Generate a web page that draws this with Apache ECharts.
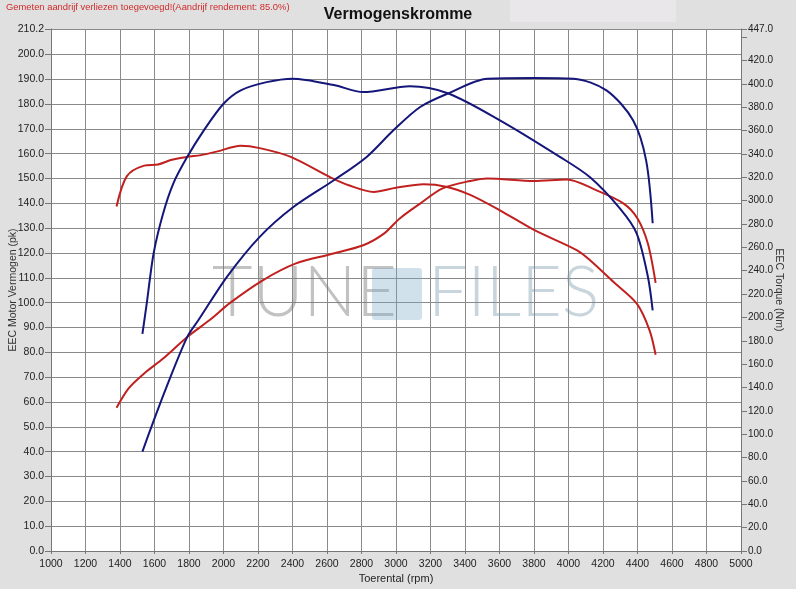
<!DOCTYPE html>
<html>
<head>
<meta charset="utf-8">
<script src="https://cdn.jsdelivr.net/npm/echarts@6/dist/echarts.min.js"></script>
<style>
  html, body { margin: 0; padding: 0; background: #e0e0e0; }
  #chart { width: 796px; height: 589px; }
</style>
</head>
<body>
<div id="chart"></div>
<script>
// toerental (rpm) per curve
const rpmOrigPower = [1380, 1450, 1540, 1650, 1790, 1920, 2040, 2230, 2420, 2620, 2810, 2930, 3020, 3140, 3270, 3430, 3530, 3800, 3990, 4160, 4320, 4400, 4460, 4505];
const origPower = [57.7, 65.5, 71.5, 77.5, 86.2, 93.0, 100.0, 109.1, 115.8, 119.5, 123.1, 127.8, 133.8, 139.9, 146.0, 149.0, 150.0, 149.0, 149.6, 145.3, 139.9, 133.9, 123.8, 108.0];

const rpmOrigTorque = [1380, 1440, 1540, 1620, 1700, 1790, 1870, 1960, 2100, 2210, 2390, 2620, 2730, 2870, 3000, 3160, 3290, 3430, 3600, 3800, 4050, 4125, 4260, 4395, 4470, 4505];
const origTorque = [295, 321, 330, 331, 335, 337.5, 339, 342, 347, 345, 337.5, 320, 313, 307.5, 311, 314, 312, 305, 292, 275, 257.5, 249, 230.5, 212, 189, 168];

const rpmTunedPower = [1530, 1575, 1670, 1790, 1855, 2020, 2210, 2405, 2640, 2830, 2985, 3140, 3300, 3530, 3800, 4030, 4220, 4375, 4450, 4488];
const tunedPower = [40.0, 48.7, 66.1, 86.2, 93.0, 110.4, 126.5, 138.5, 149.3, 158.7, 169.4, 178.8, 184.2, 190.2, 190.5, 190.2, 185.5, 173.4, 157.3, 132.0];

const rpmTunedTorque = [1530, 1555, 1595, 1650, 1710, 1790, 1885, 2000, 2100, 2250, 2400, 2640, 2810, 3080, 3300, 3600, 3950, 4125, 4300, 4395, 4460, 4488];
const tunedTorque = [186, 212, 255, 289, 315, 337.5, 360, 383, 394.5, 401.5, 404.5, 399, 393, 398, 392, 369, 337.5, 320, 293, 272, 235, 206];

const powerMax = 210.2;
const torqueMax = 447.0;

const zip = (xs, ys) => xs.map((x, i) => [x, ys[i]]);

const chart = echarts.init(document.getElementById("chart"));

const font = "Liberation Sans, Arial, sans-serif";
const red = "#c0211f";
const blue = "#14167a";

chart.setOption({
  backgroundColor: "#e0e0e0",
  animation: false,
  title: {
    text: "Vermogenskromme",
    left: "center",
    top: 2,
    textStyle: { fontFamily: font, fontSize: 16, fontWeight: "bold", color: "#111" },
  },
  graphic: [
    { type: "rect", left: 510, top: 0, shape: { width: 166, height: 22 }, style: { fill: "#e9e7e9" }, z: -1 },
    {
      type: "text", left: 6, top: 3,
      style: { text: "Gemeten aandrijf verliezen toegevoegd!(Aandrijf rendement: 85.0%)", fill: "#d02a2a", font: "9.4px " + font },
    },
    { type: "text", left: 212, top: 258, z: 1, style: { text: "TUNE", fill: "rgba(120,120,120,0.45)", font: "300 70px Lato, sans-serif" } },
    { type: "rect", left: 372, top: 268, z: 1, shape: { width: 50, height: 52, r: 3 }, style: { fill: "rgba(120,170,200,0.35)" } },
    { type: "text", left: 428, top: 258, z: 1, style: { text: "FILES", fill: "rgba(120,150,170,0.4)", font: "300 70px Lato, sans-serif" } },
  ],
  grid: {
    left: 51, right: 55, top: 29, bottom: 38,
    outerBoundsMode: "none",
    show: true, backgroundColor: "#fff", borderWidth: 0,
  },
  xAxis: {
    type: "value",
    min: 1000,
    max: 5000,
    interval: 200,
    name: "Toerental (rpm)",
    nameLocation: "middle",
    nameGap: 22,
    nameMoveOverlap: false,
    nameTextStyle: { fontFamily: font, fontSize: 11, color: "#222" },
    axisLine: { lineStyle: { color: "#777" } },
    axisTick: { show: true, length: 3, lineStyle: { color: "#777" } },
    axisLabel: { fontFamily: font, fontSize: 10.5, color: "#222", margin: 8, formatter: (v) => String(v) },
    splitLine: { show: true, lineStyle: { color: "#8a8a8a", width: 1 } },
  },
  yAxis: [
    {
      type: "value",
      min: 0,
      max: powerMax,
      interval: 10,
      name: "EEC Motor Vermogen (pk)",
      nameLocation: "middle",
      nameGap: 32,
      nameMoveOverlap: false,
      nameTextStyle: { fontFamily: font, fontSize: 10.5, color: "#333" },
      axisLine: { show: true, lineStyle: { color: "#777" } },
      axisTick: { show: true, length: 6, lineStyle: { color: "#777" } },
      axisLabel: {
        fontFamily: font, fontSize: 10.5, color: "#222", margin: 7,
        formatter: (v) => (v === 210 ? "" : v.toFixed(1)),
      },
      splitLine: { show: true, lineStyle: { color: "#8a8a8a", width: 1 } },
    },
    {
      type: "value",
      position: "right",
      min: 0,
      max: torqueMax,
      interval: 20,
      name: "EEC Torque (Nm)",
      nameLocation: "middle",
      nameGap: 32,
      nameRotate: -90,
      nameMoveOverlap: false,
      nameTextStyle: { fontFamily: font, fontSize: 10.5, color: "#333" },
      axisLine: { show: true, lineStyle: { color: "#777" } },
      axisTick: { show: true, length: 6, lineStyle: { color: "#777" } },
      axisLabel: {
        fontFamily: font, fontSize: 10, color: "#222", margin: 7,
        formatter: (v) => (v === 440 ? "" : v.toFixed(1)),
      },
      splitLine: { show: false },
    },
  ],
  series: [
    {
      name: "Vermogen origineel", type: "line", yAxisIndex: 0, z: 3,
      data: zip(rpmOrigPower, origPower),
      smooth: 0.3, showSymbol: false,
      lineStyle: { color: red, width: 2 },
    },
    {
      name: "Koppel origineel", type: "line", yAxisIndex: 1, z: 3,
      data: zip(rpmOrigTorque, origTorque),
      smooth: 0.3, showSymbol: false,
      lineStyle: { color: red, width: 2 },
    },
    {
      name: "Vermogen getuned", type: "line", yAxisIndex: 0, z: 3,
      data: zip(rpmTunedPower, tunedPower),
      smooth: 0.3, showSymbol: false,
      lineStyle: { color: blue, width: 2 },
    },
    {
      name: "Koppel getuned", type: "line", yAxisIndex: 1, z: 3,
      data: zip(rpmTunedTorque, tunedTorque),
      smooth: 0.3, showSymbol: false,
      lineStyle: { color: blue, width: 2 },
    },
  ],
});
</script>
</body>
</html>
